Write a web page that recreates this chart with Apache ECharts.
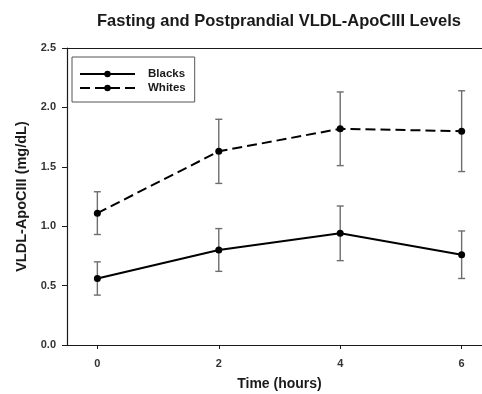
<!DOCTYPE html>
<html>
<head>
<meta charset="utf-8">
<script src="https://cdn.jsdelivr.net/npm/echarts@6/dist/echarts.min.js"></script>
<style>
  html, body { margin: 0; padding: 0; background: #fff; overflow: hidden; }
  #chart { width: 482px; height: 394px; }
</style>
</head>
<body>
<div id="chart"></div>
<script>
// Sampling times (hours after meal)
const hours = [0, 2, 4, 6];
const xTickValues = [0, 2, 4, 6];

// VLDL-ApoCIII means and error-bar limits (mg/dL)
const blacksMean = [0.56, 0.80, 0.94, 0.76];
const blacksLow  = [0.42, 0.62, 0.71, 0.56];
const blacksHigh = [0.70, 0.98, 1.17, 0.96];

const whitesMean = [1.11, 1.63, 1.82, 1.80];
const whitesLow  = [0.93, 1.36, 1.51, 1.46];
const whitesHigh = [1.29, 1.90, 2.13, 2.14];

const FONT = '"Liberation Sans", Arial, sans-serif';
const INK = '#1a1a1a';

function pairs(xs, ys) { return xs.map((x, i) => [x, ys[i]]); }
function bars(xs, lo, hi) { return xs.map((x, i) => [x, lo[i], hi[i]]); }

function renderErrorBar(params, api) {
  const x = api.value(0);
  const pLo = api.coord([x, api.value(1)]);
  const pHi = api.coord([x, api.value(2)]);
  const cap = 3.5;
  const style = { stroke: '#6e6e6e', lineWidth: 1.4 };
  return {
    type: 'group',
    children: [
      { type: 'line', shape: { x1: pLo[0], y1: pLo[1], x2: pHi[0], y2: pHi[1] }, style },
      { type: 'line', shape: { x1: pHi[0] - cap, y1: pHi[1], x2: pHi[0] + cap, y2: pHi[1] }, style },
      { type: 'line', shape: { x1: pLo[0] - cap, y1: pLo[1], x2: pLo[0] + cap, y2: pLo[1] }, style }
    ]
  };
}

const chart = echarts.init(document.getElementById('chart'), null, { renderer: 'canvas' });

chart.setOption({
  animation: false,
  backgroundColor: '#ffffff',
  textStyle: { fontFamily: FONT },
  title: {
    text: 'Fasting and Postprandial VLDL-ApoCIII Levels',
    left: 274,
    top: 8,
    textAlign: 'center',
    textStyle: { fontFamily: FONT, fontSize: 16.5, fontWeight: 'bold', color: INK }
  },
  legend: {
    orient: 'vertical',
    left: 72,
    top: 57,
    padding: [11, 9, 8, 7],
    itemGap: 2,
    itemWidth: 55,
    itemHeight: 8,
    borderColor: '#555',
    borderWidth: 1,
    textStyle: { fontFamily: FONT, fontSize: 11.5, fontWeight: 'bold', color: INK, padding: [0, 0, 0, 8] },
    data: ['Blacks', 'Whites']
  },
  // the plot frame runs past the right edge of the page
  grid: { left: 67, right: -10, top: 48, bottom: 49, outerBoundsMode: 'none' },
  xAxis: [
    {
      type: 'value',
      min: -0.5,
      max: 6.5,
      name: 'Time (hours)',
      nameLocation: 'middle',
      nameGap: 32,
      nameTextStyle: { fontFamily: FONT, fontSize: 14, fontWeight: 'bold', color: INK },
      axisLine: { show: true, onZero: false, lineStyle: { color: INK, width: 1.2 } },
      axisTick: { show: true, length: 4, customValues: xTickValues, lineStyle: { color: INK } },
      axisLabel: { show: true, customValues: xTickValues, margin: 13, fontFamily: FONT, fontSize: 11, fontWeight: 'bold', color: '#333' },
      splitLine: { show: false }
    },
    {
      type: 'value',
      position: 'top',
      min: -0.5,
      max: 6.5,
      axisLine: { show: true, onZero: false, lineStyle: { color: INK, width: 1.2 } },
      axisTick: { show: false },
      axisLabel: { show: false },
      splitLine: { show: false }
    }
  ],
  yAxis: {
    type: 'value',
    min: 0,
    max: 2.5,
    interval: 0.5,
    name: 'VLDL-ApoCIII (mg/dL)',
    nameLocation: 'middle',
    nameGap: 37,
    nameTextStyle: { fontFamily: FONT, fontSize: 14.5, fontWeight: 'bold', color: INK },
    axisLine: { show: true, onZero: false, lineStyle: { color: INK, width: 1.2 } },
    axisTick: { show: true, length: 5, lineStyle: { color: INK } },
    axisLabel: { margin: 11, fontFamily: FONT, fontSize: 11, fontWeight: 'bold', color: '#333', formatter: v => v.toFixed(1) },
    splitLine: { show: false }
  },
  series: [
    {
      name: 'Blacks error',
      type: 'custom',
      renderItem: renderErrorBar,
      data: bars(hours, blacksLow, blacksHigh),
      encode: { x: 0, y: [1, 2] },
      z: 1
    },
    {
      name: 'Whites error',
      type: 'custom',
      renderItem: renderErrorBar,
      data: bars(hours, whitesLow, whitesHigh),
      encode: { x: 0, y: [1, 2] },
      z: 1
    },
    {
      name: 'Blacks',
      type: 'line',
      data: pairs(hours, blacksMean),
      symbol: 'circle',
      symbolSize: 7,
      itemStyle: { color: '#000' },
      lineStyle: { color: '#000', width: 2 },
      z: 3
    },
    {
      name: 'Whites',
      type: 'line',
      data: pairs(hours, whitesMean),
      symbol: 'circle',
      symbolSize: 7,
      itemStyle: { color: '#000' },
      lineStyle: { color: '#000', width: 2, type: [10, 5] },
      z: 3
    }
  ]
});
</script>
</body>
</html>
